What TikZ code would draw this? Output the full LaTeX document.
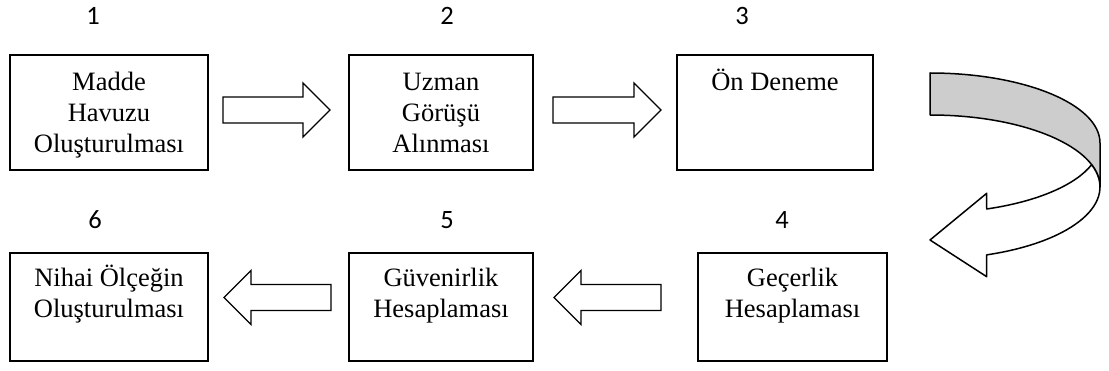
\documentclass[tikz,border=0pt]{standalone}
\usepackage{fontspec}
\setmainfont{Liberation Serif}
\newfontfamily\numfont{Carlito}
\usetikzlibrary{calc}
\definecolor{ribgray}{HTML}{CDCDCD}
\tikzset{
  box/.style={draw=black, line width=1.5pt, rectangle, inner sep=0pt, outer sep=0pt},
  txt/.style={inner sep=0pt, outer sep=0pt, anchor=base, font=\fontsize{26.5}{31}\selectfont},
  num/.style={inner sep=0pt, outer sep=0pt, anchor=base, font=\numfont\fontsize{26.5}{30}\selectfont},
  barrow/.style={draw=black, line width=1.3pt, fill=white, line join=miter},
  ribbon/.style={draw=black, line width=1.5pt, line join=round},
}
\newcommand\blockarr[2]{%
  \draw[barrow] let \p1=#1, \p2=#2, \n1={sign(\x2-\x1)} in
   ({\x1},{\y1+13pt}) -- ({\x2-\n1*27pt},{\y1+13pt}) -- ({\x2-\n1*27pt},{\y1+27pt})
   -- ({\x2},{\y1}) -- ({\x2-\n1*27pt},{\y1-27pt}) -- ({\x2-\n1*27pt},{\y1-13pt})
   -- ({\x1},{\y1-13pt}) -- cycle;}
\begin{document}
\begin{tikzpicture}[x=1pt,y=1pt]
\useasboundingbox (0,0) rectangle (1109,370);
% boxes
\node[box, minimum width=198pt, minimum height=115pt] (b1) at (109,257.5) {};
\node[box, minimum width=184pt, minimum height=115pt] (b2) at (441,257.5) {};
\node[box, minimum width=196pt, minimum height=115pt] (b3) at (775,257.5) {};
\node[box, minimum width=189pt, minimum height=108pt] (b4) at (792.5,63) {};
\node[box, minimum width=184pt, minimum height=108pt] (b5) at (441,63) {};
\node[box, minimum width=198pt, minimum height=108pt] (b6) at (109,63) {};
% texts
\node[txt] (t1) at (109,279) {\begin{tabular}[t]{@{}c@{}}Madde\\Havuzu\\Oluşturulması\end{tabular}};
\node[txt] (t2) at (441,279) {\begin{tabular}[t]{@{}c@{}}Uzman\\Görüşü\\Alınması\end{tabular}};
\node[txt] (t3) at (775,279) {Ön Deneme};
\node[txt] (t4) at (792.5,84) {\begin{tabular}[t]{@{}c@{}}Geçerlik\\Hesaplaması\end{tabular}};
\node[txt] (t5) at (441,84) {\begin{tabular}[t]{@{}c@{}}Güvenirlik\\Hesaplaması\end{tabular}};
\node[txt] (t6) at (109,84) {\begin{tabular}[t]{@{}c@{}}Nihai Ölçeğin\\Oluşturulması\end{tabular}};
% numbers
\node[num] (n1) at (93,345.5) {1};
\node[num] (n2) at (447,345.5) {2};
\node[num] (n3) at (742,345.5) {3};
\node[num] (n4) at (782,142) {4};
\node[num] (n5) at (447,142) {5};
\node[num] (n6) at (95,142) {6};
% block arrows
\blockarr{([xshift=15pt,yshift=2.5pt]b1.east)}{([xshift=-19pt,yshift=2.5pt]b2.west)}
\blockarr{([xshift=20pt,yshift=2.5pt]b2.east)}{([xshift=-16pt,yshift=2.5pt]b3.west)}
\blockarr{([xshift=-37pt,yshift=9.5pt]b4.west)}{([xshift=21pt,yshift=9.5pt]b5.east)}
\blockarr{([xshift=-18pt,yshift=9.5pt]b5.west)}{([xshift=16pt,yshift=9.5pt]b6.east)}
% curved ribbon arrow from step 3 to step 4
\draw[ribbon, fill=ribgray] (930,297) arc[start angle=90, end angle=0, x radius=170pt, y radius=70pt]
  -- (1100,183) arc[start angle=0, end angle=90, x radius=170pt, y radius=72pt] -- cycle;
\draw[ribbon, fill=white] (1091.63,205.31) arc[start angle=-18.05, end angle=-70.5, x radius=170pt, y radius=70pt]
  -- (986.7,176.7) -- (930,130) -- (986.7,93.3) -- (986.7,115.13)
  arc[start angle=-70.5, end angle=18.05, x radius=170pt, y radius=72pt] -- cycle;
\end{tikzpicture}
\end{document}
